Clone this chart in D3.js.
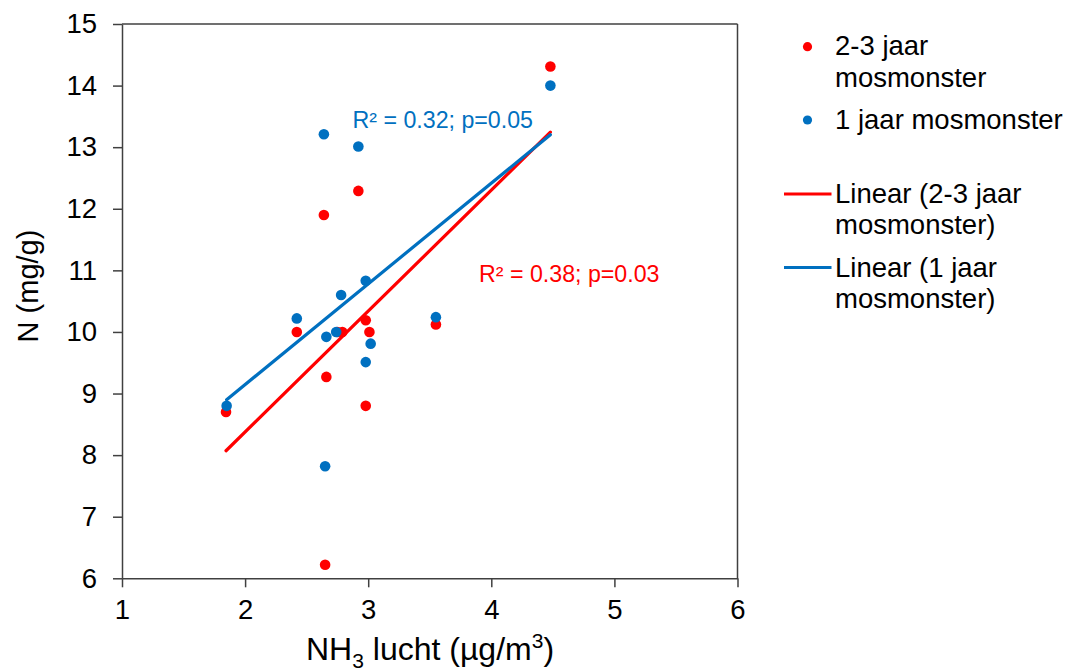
<!DOCTYPE html>
<html>
<head>
<meta charset="utf-8">
<script src="https://cdn.jsdelivr.net/npm/d3@7"></script>
<style>
  html, body { margin: 0; padding: 0; background: #fff; }
  svg { display: block; font-family: "Liberation Sans", Arial, sans-serif; }
</style>
</head>
<body>
<svg id="chart" width="1071" height="671"></svg>
<script>
// ---- data ----
const redX  = [1.845, 2.42, 2.64, 2.92, 2.66, 2.75, 2.79, 2.98, 3.01, 2.98, 3.55, 4.48, 2.65];
const redY  = [8.70, 10.0, 11.90, 12.29, 9.27, 10.0, 10.0, 10.19, 10.0, 8.80, 10.12, 14.31, 6.22];
const blueX = [1.85, 2.42, 2.64, 2.92, 2.66, 2.74, 2.78, 2.98, 3.02, 2.98, 2.65, 3.55, 4.48];
const blueY = [8.80, 10.22, 13.21, 13.01, 9.92, 10.0, 10.6, 10.83, 9.81, 9.51, 7.82, 10.24, 14.0];
const xTicks = [1, 2, 3, 4, 5, 6];
const yTicks = [6, 7, 8, 9, 10, 11, 12, 13, 14, 15];
const seriesNames = ["2-3 jaar mosmonster", "1 jaar mosmonster"];
const annotations = ["R\u00B2 = 0.38; p=0.03", "R\u00B2 = 0.32; p=0.05"];

const RED = "#ff0000", BLUE = "#0070c0", AXIS = "#404040";

const svg = d3.select("#chart");
const x = d3.scaleLinear().domain([1, 6]).range([122, 737.5]);
const y = d3.scaleLinear().domain([6, 15]).range([578.3, 24]);

// frame (top / right)
svg.append("line").attr("x1", x(1)).attr("x2", x(6)).attr("y1", y(15)).attr("y2", y(15))
  .attr("stroke", AXIS).attr("stroke-width", 1.5);
svg.append("line").attr("x1", x(6)).attr("x2", x(6)).attr("y1", y(15)).attr("y2", y(6))
  .attr("stroke", AXIS).attr("stroke-width", 1.5);

// axes
const gx = svg.append("g").attr("transform", `translate(0,${y(6)})`)
  .call(d3.axisBottom(x).tickValues(xTicks).tickFormat(d3.format("d")).tickSize(9).tickSizeOuter(0).tickPadding(12));
const gy = svg.append("g").attr("transform", `translate(${x(1)},0)`)
  .call(d3.axisLeft(y).tickValues(yTicks).tickFormat(d3.format("d")).tickSize(9).tickSizeOuter(0).tickPadding(16));
[gx, gy].forEach(g => {
  g.select(".domain").attr("stroke", AXIS).attr("stroke-width", 1.5);
  g.selectAll(".tick line").attr("stroke", AXIS).attr("stroke-width", 1.5);
  g.selectAll(".tick text").attr("fill", "#000").style("font-size", "27.5px")
    .style("font-family", '"Liberation Sans", Arial, sans-serif');
});

// points
function pts(xs, ys, color) {
  svg.append("g").selectAll("circle").data(xs.map((v, i) => [v, ys[i]])).join("circle")
    .attr("cx", d => x(d[0])).attr("cy", d => y(d[1])).attr("r", 5.3).attr("fill", color);
}
pts(redX, redY, RED);
pts(blueX, blueY, BLUE);

// linear trendlines (least squares)
function fit(xs, ys) {
  const mx = d3.mean(xs), my = d3.mean(ys);
  let sxy = 0, sxx = 0;
  xs.forEach((v, i) => { sxy += (v - mx) * (ys[i] - my); sxx += (v - mx) * (v - mx); });
  const b = sxy / sxx, a = my - b * mx;
  const x0 = d3.min(xs), x1 = d3.max(xs);
  return [[x0, a + b * x0], [x1, a + b * x1]];
}
const line = d3.line().x(d => x(d[0])).y(d => y(d[1]));
svg.append("path").attr("d", line(fit(redX, redY))).attr("stroke", RED).attr("stroke-width", 3.2)
  .attr("fill", "none").attr("stroke-linecap", "round");
svg.append("path").attr("d", line(fit(blueX, blueY))).attr("stroke", BLUE).attr("stroke-width", 3.2)
  .attr("fill", "none").attr("stroke-linecap", "round");

// annotations
svg.append("text").attr("x", 479).attr("y", 281.5).attr("fill", RED).style("font-size", "23.2px").text(annotations[0]);
svg.append("text").attr("x", 352.5).attr("y", 128.3).attr("fill", BLUE).style("font-size", "23.2px").text(annotations[1]);

// axis titles
const xt = svg.append("text").attr("x", 430).attr("y", 660).attr("text-anchor", "middle")
  .attr("fill", "#000").style("font-size", "32px");
xt.append("tspan").text("NH");
xt.append("tspan").attr("dy", 8).style("font-size", "21px").text("3");
xt.append("tspan").attr("dy", -8).text(" lucht (\u00B5g/m");
xt.append("tspan").attr("dy", -12).style("font-size", "21px").text("3");
xt.append("tspan").attr("dy", 12).text(")");

svg.append("text").attr("transform", "translate(38,286) rotate(-90)").attr("text-anchor", "middle")
  .attr("fill", "#000").style("font-size", "29px").text("N (mg/g)");

// legend
const lg = svg.append("g").style("font-size", "27.5px").attr("fill", "#000");
const tx = 835;
lg.append("circle").attr("cx", 807.5).attr("cy", 46.7).attr("r", 4.6).attr("fill", RED);
lg.append("text").attr("x", tx).attr("y", 55).text("2-3 jaar");
lg.append("text").attr("x", tx).attr("y", 87).text("mosmonster");
lg.append("circle").attr("cx", 807.5).attr("cy", 120).attr("r", 4.6).attr("fill", BLUE);
lg.append("text").attr("x", tx).attr("y", 128.5).text(seriesNames[1]);

lg.append("line").attr("x1", 784).attr("x2", 831.5).attr("y1", 194).attr("y2", 194)
  .attr("stroke", RED).attr("stroke-width", 3.2);
lg.append("text").attr("x", tx).attr("y", 203).text("Linear (2-3 jaar");
lg.append("text").attr("x", tx).attr("y", 234).text("mosmonster)");
lg.append("line").attr("x1", 784).attr("x2", 831.5).attr("y1", 267.5).attr("y2", 267.5)
  .attr("stroke", BLUE).attr("stroke-width", 3.2);
lg.append("text").attr("x", tx).attr("y", 277).text("Linear (1 jaar");
lg.append("text").attr("x", tx).attr("y", 308).text("mosmonster)");
</script>
</body>
</html>
